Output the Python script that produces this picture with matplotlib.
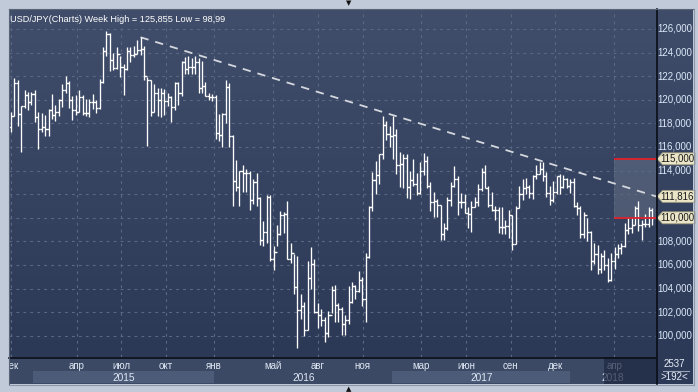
import datetime as dt
import numpy as np
import matplotlib
matplotlib.use("Agg")
import matplotlib.pyplot as plt
from matplotlib.collections import LineCollection
from matplotlib.patches import Rectangle, Polygon
from matplotlib.lines import Line2D

plt.rcParams['lines.scale_dashes'] = False
FONT = ['Liberation Sans', 'DejaVu Sans']

# ---------------- data (weekly USD/JPY bars, first bar = week of 2014-11-24) -------------
first_open = 117.70
highs = [118.98, 121.85, 121.69, 119.50, 120.80, 120.70, 120.70, 120.80, 119.00, 118.90,
         118.70, 119.20, 120.50, 119.60, 120.10, 121.30, 122.03, 121.60, 120.30, 120.40,
         120.80, 120.40, 120.10, 120.10, 120.50, 120.00, 121.80, 124.46, 125.86, 125.70,
         124.00, 124.45, 123.70, 123.00, 124.50, 124.50, 124.60, 125.07, 125.30, 124.60,
         121.90, 121.70, 121.30, 121.00, 121.00, 120.90, 120.60, 120.30, 121.50, 121.50,
         123.30, 123.60, 123.70, 123.50, 123.70, 123.50, 123.30, 121.50, 120.60, 120.50,
         120.40, 118.80, 118.90, 121.70, 121.40, 117.00, 114.90, 114.00, 114.50, 114.10,
         114.00, 113.30, 113.80, 111.80, 109.70, 111.90, 111.90, 107.60, 109.40, 110.60,
         110.50, 111.40, 107.90, 106.90, 106.80, 103.50, 102.90, 106.30, 107.50, 106.50,
         102.80, 102.30, 101.60, 102.10, 104.20, 104.30, 102.80, 102.40, 101.80, 104.20,
         104.60, 104.30, 105.50, 105.00, 107.00, 111.00, 113.90, 114.80, 115.40, 118.66,
         118.20, 117.80, 118.60, 117.50, 115.60, 115.40, 115.40, 114.00, 114.95, 113.80,
         114.70, 115.50, 115.20, 113.00, 112.20, 111.60, 111.10, 109.60, 111.80, 113.00,
         114.40, 113.50, 112.10, 112.00, 110.90, 111.40, 111.80, 112.90, 114.20, 114.50,
         112.70, 112.20, 111.00, 110.90, 110.90, 109.80, 110.70, 110.20, 111.00, 112.70,
         113.30, 113.40, 112.80, 113.60, 114.45, 114.70, 114.70, 113.90, 112.70, 113.10,
         113.50, 113.70, 113.60, 113.40, 113.30, 113.40, 111.30, 111.00, 110.50, 110.00,
         108.90, 107.90, 107.70, 107.00, 107.30, 106.60, 107.00, 107.50, 107.80, 107.90,
         109.60, 110.00, 110.00, 111.00, 111.40, 109.80, 110.30, 110.90, 110.80]
lows = [117.23, 118.60, 117.78, 115.57, 119.30, 119.10, 119.60, 118.10, 115.85, 117.25,
        116.90, 116.90, 118.40, 118.20, 118.60, 119.40, 120.60, 119.30, 118.30, 118.70,
        119.00, 118.70, 118.60, 118.50, 119.20, 118.90, 119.20, 121.40, 123.70, 122.45,
        122.50, 122.60, 121.90, 120.40, 122.50, 123.20, 123.60, 123.90, 123.80, 121.70,
        116.10, 118.60, 119.00, 118.60, 118.50, 118.70, 119.50, 118.10, 119.10, 119.60,
        120.30, 122.20, 122.20, 122.20, 122.20, 120.60, 120.60, 120.30, 120.00, 119.90,
        116.70, 116.50, 115.97, 118.00, 116.00, 110.99, 112.30, 111.00, 112.20, 112.20,
        110.67, 111.20, 111.00, 107.70, 107.60, 107.90, 106.30, 105.55, 107.60, 108.50,
        108.70, 106.50, 106.20, 103.55, 98.99, 101.40, 99.99, 100.50, 104.00, 101.90,
        100.70, 100.80, 99.50, 99.90, 101.90, 101.20, 101.20, 100.10, 100.10, 101.00,
        102.80, 103.10, 103.70, 102.50, 101.20, 106.60, 110.60, 112.00, 112.90, 115.00,
        116.60, 116.00, 115.00, 113.75, 112.60, 112.50, 111.70, 111.60, 112.70, 111.90,
        112.00, 113.60, 112.50, 110.60, 110.10, 110.10, 108.10, 108.10, 109.00, 111.00,
        112.60, 110.20, 110.80, 110.40, 109.10, 108.80, 110.90, 111.00, 112.30, 112.50,
        110.90, 110.60, 109.80, 108.70, 108.60, 108.60, 108.30, 107.30, 107.80, 110.80,
        111.50, 112.00, 111.70, 111.60, 113.30, 113.70, 113.10, 111.80, 111.10, 111.30,
        112.00, 112.00, 112.50, 112.50, 112.10, 110.90, 110.20, 108.30, 108.30, 108.00,
        105.55, 106.10, 105.25, 105.30, 105.60, 104.60, 104.64, 105.70, 106.60, 106.90,
        107.50, 108.60, 108.70, 109.40, 108.90, 108.10, 109.20, 109.20, 109.40]
closes = [118.65, 121.45, 118.80, 119.45, 120.40, 119.80, 120.50, 118.50, 117.50, 117.70,
          117.50, 119.10, 118.70, 119.00, 120.00, 120.80, 121.40, 120.00, 119.10, 119.00,
          120.20, 118.90, 118.90, 119.80, 119.80, 119.30, 121.50, 124.10, 125.60, 123.40,
          122.70, 123.90, 122.80, 122.60, 124.10, 123.80, 123.90, 124.20, 124.30, 122.00,
          121.70, 119.00, 120.60, 120.00, 120.60, 119.90, 120.20, 119.40, 121.40, 120.60,
          123.20, 122.60, 122.80, 122.80, 123.20, 121.00, 121.20, 120.30, 120.20, 120.20,
          117.20, 117.00, 118.80, 121.10, 116.90, 113.10, 112.60, 114.00, 113.80, 113.80,
          111.50, 113.00, 111.70, 108.10, 108.80, 111.80, 106.50, 107.10, 108.60, 110.20,
          110.30, 106.50, 107.00, 104.10, 102.20, 102.50, 100.50, 104.90, 106.10, 102.00,
          101.80, 101.30, 100.20, 101.80, 103.90, 102.60, 102.30, 101.00, 101.30, 102.90,
          104.20, 103.80, 104.70, 103.10, 106.70, 110.90, 113.20, 113.60, 115.40, 117.90,
          117.10, 116.90, 117.00, 114.50, 114.60, 115.10, 112.60, 113.20, 112.90, 112.10,
          114.00, 114.80, 112.70, 111.30, 111.40, 111.10, 108.60, 109.10, 111.50, 112.70,
          113.30, 111.30, 111.30, 110.40, 110.30, 110.90, 111.30, 112.40, 113.90, 112.50,
          111.10, 110.70, 110.70, 109.20, 109.20, 109.30, 110.20, 107.80, 110.80, 112.00,
          112.50, 112.60, 112.10, 113.50, 113.70, 114.10, 113.50, 112.10, 111.50, 112.20,
          113.50, 112.60, 113.30, 112.70, 113.00, 111.00, 110.80, 108.60, 110.20, 108.80,
          106.30, 106.90, 105.70, 106.80, 106.00, 104.70, 106.30, 106.90, 107.40, 107.60,
          109.00, 109.10, 109.40, 110.80, 109.40, 109.50, 109.50, 110.70, 110.00]
opens = [first_open] + closes[:-1]

first_bar_date = dt.date(2014, 11, 24)
year_splits = [dt.date(2015, 1, 1), dt.date(2016, 1, 1)]   # weeks split at year end

month_ticks = ['2014-11-24', '2015-04-01', '2015-07-01', '2015-10-01', '2016-01-01',
               '2016-05-01', '2016-08-01', '2016-11-01', '2017-03-01', '2017-06-01',
               '2017-09-01', '2017-12-01', '2018-04-01']
month_labels = ['дек', 'апр', 'июл', 'окт', 'янв', 'май', 'авг', 'ноя', 'мар', 'июн',
                'сен', 'дек', 'апр']
years = ['2015', '2016', '2017', '2018']

price_ticks = list(range(100, 127, 2))
trend_start_bar = 38
trend_end_value = 111.816
level_hi, level_lo = 115.0, 110.0
zone_start = '2018-04-01'
dim_start = '2018-03-11'
callouts = [115.0, 111.816, 110.0]
title = 'USD/JPY(Charts) Week High = 125,855 Low = 98,99'
counter_top, counter_bottom = '2537', '>192<'


def pos(datestr):
    d = dt.date.fromisoformat(datestr)
    k = sum(1 for s in year_splits if d >= s)
    return (d - first_bar_date).days / 7.0 + k


# ---------------- layout ----------------
W, H = 698, 392
fig = plt.figure(figsize=(W / 100, H / 100), dpi=100)
fig.patch.set_facecolor('#c0cad8')


def ax_px(x0, y0, x1, y1):
    return fig.add_axes([x0 / W, 1 - y1 / H, (x1 - x0) / W, (y1 - y0) / H])


def gradient(a, top, bottom):
    c1 = np.array(matplotlib.colors.to_rgb(top))
    c2 = np.array(matplotlib.colors.to_rgb(bottom))
    t = np.linspace(0, 1, 256)[:, None]
    img = (c1 * (1 - t) + c2 * t)[:, None, :]
    a.imshow(img, extent=[0, 1, 0, 1], transform=a.transAxes, aspect='auto', zorder=0)


n = len(highs)
x = np.arange(n)
bar0_px, step_px = 11.0, 3.41
xmin = (9 - bar0_px) / step_px
xmax = xmin + (656 - 9) / step_px
ymax = 126 + 20 / 11.8
ymin = ymax - 348 / 11.8

ax = ax_px(9, 9, 656, 357)
gradient(ax, '#404e6b', '#2c3956')
ax.set_xlim(xmin, xmax)
ax.set_ylim(ymin, ymax)
ax.set_xticks([pos(d) for d in month_ticks])
ax.set_yticks(price_ticks)
ax.grid(True, color='#5a6882', ls=(0, (2, 3)), lw=0.8)
ax.tick_params(length=0, labelbottom=False, labelleft=False)
for s in ax.spines.values():
    s.set_visible(False)

# zone box and levels
zx = pos(zone_start)
ax.add_patch(Rectangle((zx, level_lo), xmax - zx, level_hi - level_lo,
                       facecolor='white', alpha=0.13, lw=0, zorder=1))
ax.hlines([level_hi, level_lo], zx, xmax, color='#e0222c', lw=1.3, zorder=4)

# OHLC bars
segs = []
tk = 0.6
for i in range(n):
    segs.append([(x[i], lows[i]), (x[i], highs[i])])
    segs.append([(x[i] - tk, opens[i]), (x[i], opens[i])])
    segs.append([(x[i], closes[i]), (x[i] + tk, closes[i])])
ax.add_collection(LineCollection(segs, colors='white', linewidths=0.95, zorder=3))

# trend line
ax.plot([trend_start_bar, xmax], [highs[trend_start_bar], trend_end_value],
        color='#d4d8de', lw=1.3, ls=(0, (6, 5)), zorder=2, solid_capstyle='butt')

ax.text(0.0015, 1 - 6.5 / 348, title, transform=ax.transAxes,
        ha='left', va='top', color='white', fontsize=6.6, family=FONT, zorder=5)

# ---------------- bottom date strip ----------------
axs = ax_px(9, 357, 656, 384)
axs.set_xlim(xmin, xmax)
axs.set_ylim(0, 1)
axs.axis('off')
axs.add_patch(Rectangle((0, 0), 1, 1, transform=axs.transAxes, facecolor='#3b4965', lw=0, zorder=0))
ybounds = ['2015-01-01', '2016-01-01', '2017-01-01', '2018-01-01']
bpos = [pos(d) for d in ybounds] + [xmax]
for k, yl in enumerate(years):
    a, b = bpos[k], bpos[k + 1]
    if k % 2 == 0:
        axs.add_patch(Rectangle((a, 0.03), b - a, 0.45, facecolor='#4c5b77', lw=0, zorder=1))
    axs.text((a + b) / 2, 0.24, yl, ha='center', va='center', color='#dfe8f4',
             fontsize=7.3, family=FONT, zorder=3, clip_on=True)
for d, lab in zip(month_ticks, month_labels):
    axs.text(pos(d), 0.65, lab, ha='center', va='center', color='#dfe8f4',
             fontsize=7.0, family=FONT, zorder=3, clip_on=True)
dx = pos(dim_start)
axs.add_patch(Rectangle((dx, 0), xmax - dx, 1, facecolor='#1c2640', alpha=0.7, lw=0, zorder=4))

# ---------------- right price column ----------------
axr = ax_px(656, 9, 693, 357)
gradient(axr, '#3f4d6a', '#2d3a57')
axr.set_xlim(0, 37)
axr.set_ylim(ymin, ymax)
axr.axis('off')
hh = 6.0 / 11.8
for p in price_ticks:
    if any(abs(p - v) < 0.9 for v in callouts):
        continue  # hidden behind a callout box in the reference
    axr.text(18.5, p, f'{p},000', ha='center', va='center', color='#dce8f8',
             fontsize=7.0, family=FONT, zorder=2)
for v in callouts:
    poly = Polygon([(1, v), (6.5, v + hh), (39, v + hh), (39, v - hh), (6.5, v - hh)],
                   closed=True, facecolor='#e9e5c6', edgecolor='#9c9880', lw=0.6,
                   zorder=5, clip_on=False)
    axr.add_patch(poly)
    axr.text(21.5, v, f'{v:.3f}'.replace('.', ','),
             ha='center', va='center', color='#1a1a1a', fontsize=7.0, family=FONT,
             zorder=6, clip_on=False)

# bottom-right counter box
axb = ax_px(656, 357, 693, 384)
axb.set_xlim(0, 37)
axb.set_ylim(27, 0)
axb.axis('off')
axb.add_patch(Rectangle((0, 0), 37, 27, facecolor='#2d3a57', lw=0))
axb.text(18.5, 7.0, counter_top, ha='center', va='center', color='#e6eef8', fontsize=7.0, family=FONT)
axb.plot([7, 33], [14.0, 14.0], color='#9aa6b8', lw=0.8)
axb.text(18.5, 20.0, counter_bottom, ha='center', va='center', color='#e6eef8', fontsize=7.0, family=FONT)


def fline(x0, y0, x1, y1, c='#0a0e16', lw=1.0):
    fig.add_artist(Line2D([x0 / W, x1 / W], [1 - y0 / H, 1 - y1 / H], color=c, lw=lw,
                          transform=fig.transFigure))


fline(656.5, 9, 656.5, 384, lw=1.2)
fline(9, 357.5, 656, 357.5, lw=1.2)
fline(8.5, 8.5, 693.5, 8.5, c='#5a6478', lw=0.8)
fline(8.5, 8.5, 8.5, 384, c='#5a6478', lw=0.8)
fline(693.5, 8.5, 693.5, 384, c='#8a96a8', lw=0.8)
fline(8.5, 384.5, 693.5, 384.5, c='#8a96a8', lw=0.8)

fig.text(349 / W, 1 - 3.5 / H, '▼', ha='center', va='center', fontsize=5, color='#111111', family='DejaVu Sans')
fig.text(349 / W, 1 - 389 / H, '▲', ha='center', va='center', fontsize=5, color='#111111', family='DejaVu Sans')

fig.savefig('out.png', dpi=100, facecolor=fig.get_facecolor())
